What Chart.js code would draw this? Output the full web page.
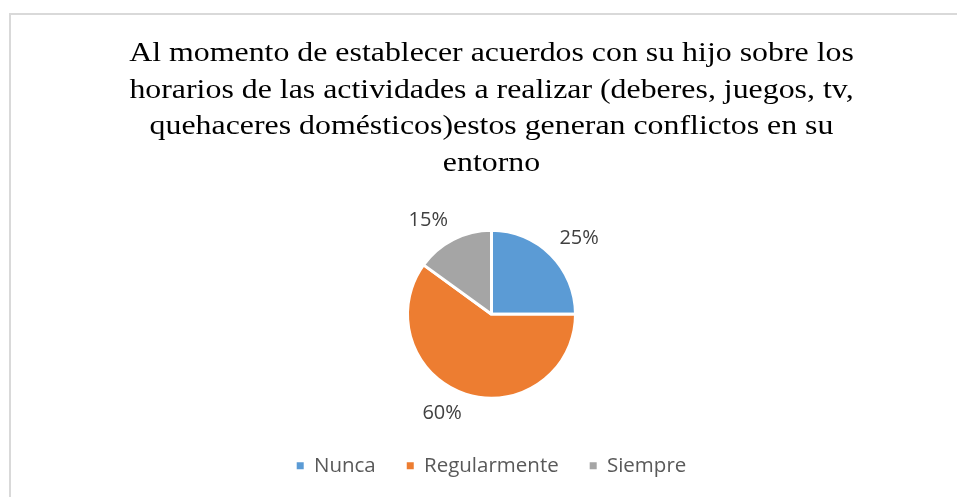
<!DOCTYPE html>
<html>
<head>
<meta charset="utf-8">
<script src="https://cdn.jsdelivr.net/npm/chart.js@4/dist/chart.umd.min.js"></script>
<style>
  html, body { margin: 0; padding: 0; background: #fff; overflow: hidden; }
  #wrap { position: relative; width: 957px; height: 497px; }
  #frame { position: absolute; left: 9px; top: 13px; width: 1000px; height: 600px;
           border-left: 2px solid #d9d9d9; border-top: 2px solid #d9d9d9; box-sizing: border-box; }
  canvas { position: absolute; left: 0; top: 0; }
</style>
</head>
<body>
<div id="wrap">
  <div id="frame"></div>
  <canvas id="c" width="957" height="497"></canvas>
</div>
<script>
const titleLines = [
  'Al momento de establecer acuerdos con su hijo sobre los',
  'horarios de las actividades a realizar (deberes, juegos, tv,',
  'quehaceres domésticos)estos generan conflictos en su',
  'entorno'
];
const categories = ['Nunca', 'Regularmente', 'Siempre'];
const percentages = [25, 60, 15];
const sliceColors = ['#5B9BD5', '#ED7D31', '#A5A5A5'];

const outsideLabels = {
  id: 'outsideLabels',
  afterDatasetsDraw(chart) {
    const ctx = chart.ctx;
    const meta = chart.getDatasetMeta(0);
    ctx.save();
    ctx.font = '20px "Open Sans"';
    ctx.fillStyle = '#404040';
    ctx.textAlign = 'center';
    ctx.textBaseline = 'middle';
    meta.data.forEach((arc, i) => {
      const p = arc.getProps(['x', 'y', 'startAngle', 'endAngle', 'outerRadius'], true);
      const mid = (p.startAngle + p.endAngle) / 2;
      const txt = percentages[i] + '%';
      const w = ctx.measureText(txt).width;
      const h = 16;
      const dx = Math.cos(mid), dy = Math.sin(mid);
      const r = p.outerRadius + 12;
      const x = p.x + dx * r + Math.sign(dx) * w / 2;
      const y = p.y + dy * r + Math.sign(dy) * h / 2;
      ctx.fillText(txt, x, y);
    });
    ctx.restore();
  }
};

const chart = new Chart(document.getElementById('c'), {
  type: 'pie',
  data: {
    labels: categories,
    datasets: [{
      data: percentages,
      backgroundColor: sliceColors,
      borderColor: '#ffffff',
      borderWidth: 3,
      radius: 84
    }]
  },
  options: {
    responsive: false,
    animation: false,
    layout: { padding: { left: 26, right: 0, top: 0, bottom: 11 } },
    plugins: {
      title: {
        display: true,
        text: titleLines,
        color: '#000000',
        font: { family: '"Liberation Serif", "Times New Roman", serif', size: 27, weight: 'normal', lineHeight: 1.352 },
        padding: { top: 36, bottom: 22 }
      },
      legend: {
        display: true,
        position: 'bottom',
        labels: {
          color: '#595959',
          font: { family: '"Open Sans"', size: 20.5 },
          boxWidth: 7,
          boxHeight: 7,
          padding: 31,
          generateLabels(ch) {
            const items = Chart.overrides.pie.plugins.legend.labels.generateLabels(ch);
            items.forEach(it => { it.lineWidth = 0; it.strokeStyle = it.fillStyle; });
            return items;
          }
        }
      },
      tooltip: { enabled: false }
    }
  },
  plugins: [outsideLabels]
});

// the reference title glyphs are horizontally stretched; reproduce that
const tb = chart.titleBlock;
if (tb) {
  const origDraw = tb.draw.bind(tb);
  tb.draw = function () {
    const ctx = chart.ctx;
    const cx = (tb.left + tb.right) / 2;
    ctx.save();
    ctx.translate(cx, 0);
    ctx.scale(1.18, 1);
    ctx.translate(-cx, 0);
    origDraw();
    ctx.restore();
  };
  chart.draw();
}
</script>
</body>
</html>
